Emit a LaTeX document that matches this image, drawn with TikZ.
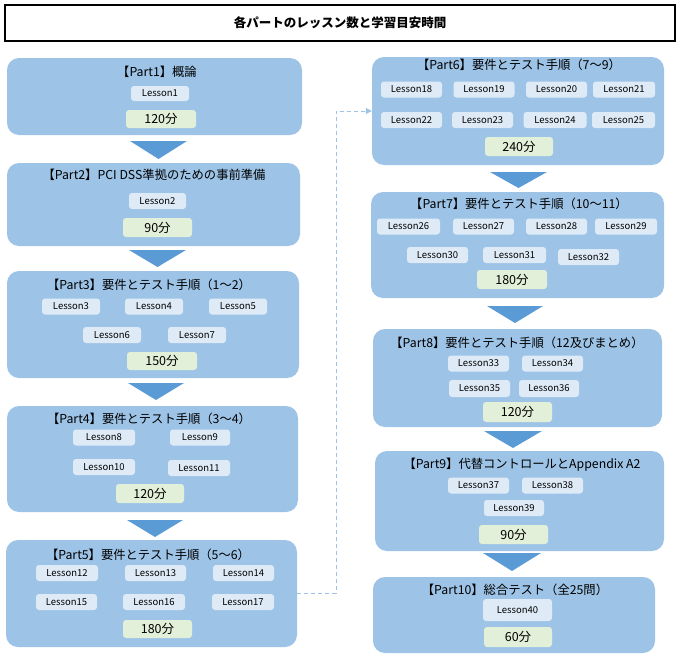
\documentclass[tikz,border=0pt]{standalone}
\usepackage{fontspec}
\setmainfont{Noto Sans CJK JP}
\usetikzlibrary{arrows.meta}
\definecolor{partfill}{HTML}{9DC3E6}
\definecolor{lessfill}{HTML}{DEEBF7}
\definecolor{minfill}{HTML}{E2F0D9}
\definecolor{arrfill}{HTML}{5B9BD5}
\definecolor{dashcol}{HTML}{9DC3E6}
\newcommand{\tri}[4]{\fill[arrfill] (#1,#3) -- (#2,#3) -- ({(#1+#2)/2},#4) -- cycle;}
\begin{document}
\begin{tikzpicture}[x=1pt,y=-1pt,
  partbox/.style={fill=partfill, rounded corners=12pt, inner sep=0pt},
  parttitle/.style={inner sep=0pt, font=\fontsize{12.3}{14}\selectfont},
  lesson/.style={fill=lessfill, rounded corners=3pt, inner sep=0pt, minimum width=61pt, minimum height=16pt, font=\fontsize{9.5}{11}\selectfont},
  minbox/.style={fill=minfill, rounded corners=3pt, inner sep=0pt, minimum width=69pt, minimum height=19pt, font=\fontsize{12.5}{14}\selectfont},
  conn/.style={draw=dashcol, line width=1pt, dash pattern=on 4pt off 3pt, -{Triangle[length=6pt,width=6pt]}}
]
\useasboundingbox (0,0) rectangle (681,656);
% title
\node[draw=black, line width=2pt, minimum width=670pt, minimum height=36pt, inner sep=0pt, font=\fontsize{12.5}{14}\selectfont\bfseries] (title) at (340,23) {各パートのレッスン数と学習目安時間};

% ---------- Part1
\node[partbox, minimum width=295pt, minimum height=77pt] (p1) at (154.5,96.5) {};
\node[parttitle] (p1t) at (157,72) {【Part1】概論};
\node[lesson, minimum width=58pt, minimum height=15pt] (l1) at (160,93.5) {Lesson1};
\node[minbox, minimum width=70pt, minimum height=18pt] (m1) at (161,119) {120分};
\tri{130}{187}{141}{159}

% ---------- Part2
\node[partbox, minimum width=293pt, minimum height=83pt] (p2) at (153.5,204.5) {};
\node[parttitle] (p2t) at (154,175) {【Part2】PCI DSS準拠のための事前準備};
\node[lesson, minimum width=57pt] (l2) at (157.5,201) {Lesson2};
\node[minbox] (m2) at (157.5,227.5) {90分};
\tri{129}{186}{250}{267}

% ---------- Part3
\node[partbox, minimum width=292pt, minimum height=107pt] (p3) at (153,324.5) {};
\node[parttitle] (p3t) at (149,285) {【Part3】要件とテスト手順（1～2）};
\node[lesson, minimum width=58pt] (l3) at (71,306.5) {Lesson3};
\node[lesson, minimum width=58pt] (l4) at (154,306.5) {Lesson4};
\node[lesson, minimum width=58pt] (l5) at (238,306.5) {Lesson5};
\node[lesson, minimum width=58pt] (l6) at (112,335) {Lesson6};
\node[lesson, minimum width=58pt] (l7) at (197,335) {Lesson7};
\node[minbox, minimum width=70pt, minimum height=18pt] (m3) at (162,361) {150分};
\tri{128}{184}{383}{400}

% ---------- Part4
\node[partbox, minimum width=291pt, minimum height=106pt] (p4) at (152.5,459) {};
\node[parttitle] (p4t) at (149,419) {【Part4】要件とテスト手順（3～4）};
\node[lesson, minimum width=62pt] (l8) at (104,437.5) {Lesson8};
\node[lesson, minimum width=60pt] (l9) at (200,437.5) {Lesson9};
\node[lesson, minimum width=62pt] (l10) at (104,467) {Lesson10};
\node[lesson, minimum width=62pt] (l11) at (199,468) {Lesson11};
\node[minbox, minimum width=68pt] (m4) at (150,493.5) {120分};
\tri{127}{183}{520}{537}

% ---------- Part5
\node[partbox, minimum width=291pt, minimum height=107pt] (p5) at (151.5,593.5) {};
\node[parttitle] (p5t) at (148,555) {【Part5】要件とテスト手順（5～6）};
\node[lesson, minimum width=62pt] (l12) at (67,573) {Lesson12};
\node[lesson] (l13) at (155.5,573) {Lesson13};
\node[lesson] (l14) at (243.5,573) {Lesson14};
\node[lesson] (l15) at (66.5,602) {Lesson15};
\node[lesson, minimum width=62pt] (l16) at (154,602) {Lesson16};
\node[lesson, minimum width=62pt] (l17) at (243,602) {Lesson17};
\node[minbox, minimum height=18pt] (m5) at (157.5,629) {180分};

% ---------- Part6
\node[partbox, minimum width=292pt, minimum height=108pt] (p6) at (518,111) {};
\node[parttitle] (p6t) at (519,65) {【Part6】要件とテスト手順（7～9）};
\node[lesson] (l18) at (411.5,89.5) {Lesson18};
\node[lesson] (l19) at (484,89.5) {Lesson19};
\node[lesson] (l20) at (556.5,89.5) {Lesson20};
\node[lesson, minimum width=62pt] (l21) at (624,89.5) {Lesson21};
\node[lesson] (l22) at (411.5,120) {Lesson22};
\node[lesson] (l23) at (482.5,120) {Lesson23};
\node[lesson, minimum width=63pt] (l24) at (555,120) {Lesson24};
\node[lesson, minimum width=63pt] (l25) at (623.5,120) {Lesson25};
\node[minbox, minimum width=68pt] (m6) at (519,146.5) {240分};
\tri{490}{547}{172}{188}

% ---------- Part7
\node[partbox, minimum width=293pt, minimum height=106pt] (p7) at (517.5,245) {};
\node[parttitle] (p7t) at (519,204) {【Part7】要件とテスト手順（10～11）};
\node[lesson, minimum width=63pt] (l26) at (408.5,226.5) {Lesson26};
\node[lesson] (l27) at (483.5,226.5) {Lesson27};
\node[lesson] (l28) at (556.5,226.5) {Lesson28};
\node[lesson, minimum width=62pt] (l29) at (626,226.5) {Lesson29};
\node[lesson] (l30) at (437.5,255) {Lesson30};
\node[lesson, minimum width=63pt] (l31) at (514.5,255) {Lesson31};
\node[lesson] (l32) at (588.5,257) {Lesson32};
\node[minbox, minimum width=70pt] (m7) at (512,279.5) {180分};
\tri{487}{543}{306}{323}

% ---------- Part8
\node[partbox, minimum width=289pt, minimum height=98pt] (p8) at (517.5,378) {};
\node[parttitle] (p8t) at (517,343) {【Part8】要件とテスト手順（12及びまとめ）};
\node[lesson] (l33) at (478.5,363.5) {Lesson33};
\node[lesson] (l34) at (552.5,363.5) {Lesson34};
\node[lesson, minimum height=17pt] (l35) at (479.5,388.5) {Lesson35};
\node[lesson, minimum width=60pt, minimum height=17pt] (l36) at (549,388.5) {Lesson36};
\node[minbox, minimum height=20pt] (m8) at (517.5,412) {120分};
\tri{484}{542}{431}{448}

% ---------- Part9
\node[partbox, minimum width=289pt, minimum height=100pt] (p9) at (519.5,501) {};
\node[parttitle] (p9t) at (522,465) {【Part9】代替コントロールとAppendix A2};
\node[lesson] (l37) at (478.5,485.5) {Lesson37};
\node[lesson] (l38) at (552.5,485.5) {Lesson38};
\node[lesson, minimum width=60pt] (l39) at (514,508) {Lesson39};
\node[minbox] (m9) at (513.5,534.5) {90分};
\tri{483}{541}{553}{571}

% ---------- Part10
\node[partbox, minimum width=282pt, minimum height=76pt] (p10) at (514,615) {};
\node[parttitle] (p10t) at (515,590) {【Part10】総合テスト（全25問）};
\node[lesson, minimum width=69pt, minimum height=22pt] (l40) at (517.5,610) {Lesson40};
\node[minbox, minimum width=68pt, minimum height=20pt] (m10) at (518,637) {60分};

% dashed connector Part5 -> Part6
\coordinate (bend) at (336,593.5);
\draw[conn] (p5.east) -- (bend) |- (p6.west);
\end{tikzpicture}
\end{document}
